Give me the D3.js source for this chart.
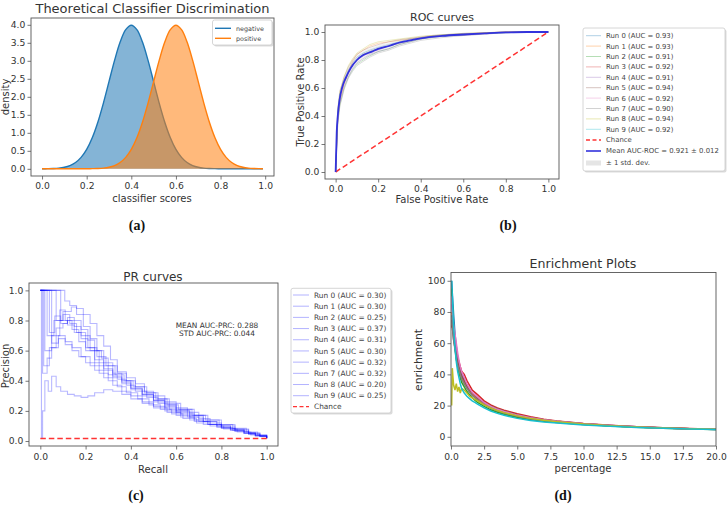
<!DOCTYPE html>
<html><head><meta charset="utf-8">
<script src="https://cdn.jsdelivr.net/npm/d3@7"></script>
<style>body{margin:0;background:#fff}svg{display:block}text{font-family:"DejaVu Sans",sans-serif}</style>
</head><body><svg id="c" width="728" height="509"></svg>
<script>
// ---------- DATA ----------
const tab10 = ["#1f77b4","#ff7f0e","#2ca02c","#d62728","#9467bd","#8c564b","#e377c2","#7f7f7f","#bcbd22","#17becf"];

// (a) theoretical score densities
const scoreX = [0,0.025,0.05,0.075,0.1,0.125,0.15,0.175,0.2,0.225,0.25,0.275,0.3,0.325,0.35,0.375,0.4,0.425,0.45,0.475,0.5,0.525,0.55,0.575,0.6,0.625,0.65,0.675,0.7,0.725,0.75,0.775,0.8,0.825,0.85,0.875,0.9,0.925,0.95,0.975,0.99];
const negDensity = [0.001,0.004,0.009,0.020,0.044,0.091,0.175,0.317,0.540,0.863,1.295,1.826,2.420,3.011,3.521,3.866,3.989,3.866,3.521,3.011,2.420,1.826,1.295,0.863,0.540,0.317,0.175,0.091,0.044,0.020,0.009,0.004,0.001,0,0,0,0,0,0,0,0];
const posDensity = [0,0,0,0,0,0,0,0,0.001,0.004,0.009,0.020,0.044,0.091,0.175,0.317,0.540,0.863,1.295,1.826,2.420,3.011,3.521,3.866,3.989,3.866,3.521,3.011,2.420,1.826,1.295,0.863,0.540,0.317,0.175,0.091,0.044,0.020,0.009,0.004,0.002];
const densityLabels = ["negative","positive"];
const aXTicks = [0,0.2,0.4,0.6,0.8,1.0];
const aYTicks = [0,0.5,1,1.5,2,2.5,3,3.5,4];

// (b) ROC curves
const fprGrid = [0,0.01,0.02,0.04,0.06,0.08,0.1,0.13,0.16,0.2,0.25,0.3,0.35,0.4,0.45,0.5,0.6,0.7,0.8,0.9,1.0];
const rocRuns = [
  [0,0.42,0.55,0.66,0.73,0.78,0.82,0.85,0.87,0.89,0.91,0.93,0.95,0.96,0.97,0.98,0.985,0.99,1,1,1],
  [0,0.38,0.50,0.62,0.72,0.79,0.84,0.87,0.90,0.92,0.93,0.94,0.95,0.96,0.97,0.975,0.985,0.995,1,1,1],
  [0,0.36,0.48,0.60,0.68,0.73,0.77,0.80,0.83,0.86,0.88,0.91,0.93,0.95,0.96,0.97,0.98,0.99,0.995,1,1],
  [0,0.40,0.52,0.64,0.71,0.77,0.80,0.84,0.86,0.88,0.90,0.92,0.94,0.955,0.965,0.975,0.98,0.99,1,1,1],
  [0,0.35,0.50,0.61,0.68,0.74,0.78,0.81,0.84,0.86,0.88,0.91,0.93,0.95,0.96,0.97,0.975,0.985,0.995,1,1],
  [0,0.45,0.58,0.68,0.75,0.80,0.84,0.87,0.89,0.91,0.93,0.945,0.955,0.965,0.975,0.98,0.99,0.995,1,1,1],
  [0,0.40,0.54,0.64,0.70,0.76,0.80,0.83,0.85,0.87,0.90,0.92,0.94,0.955,0.965,0.97,0.98,0.99,0.995,1,1],
  [0,0.34,0.47,0.59,0.67,0.72,0.76,0.79,0.82,0.85,0.87,0.90,0.92,0.94,0.95,0.96,0.975,0.985,0.995,1,1],
  [0,0.44,0.57,0.68,0.76,0.81,0.85,0.88,0.91,0.93,0.94,0.95,0.96,0.97,0.975,0.98,0.99,0.995,1,1,1],
  [0,0.42,0.55,0.65,0.71,0.76,0.80,0.84,0.86,0.88,0.90,0.92,0.94,0.955,0.965,0.97,0.98,0.99,0.995,1,1]
];
const rocAUC = ["0.93","0.93","0.91","0.92","0.91","0.94","0.92","0.90","0.94","0.92"];
const meanFpr = [0,0.005,0.01,0.02,0.03,0.05,0.07,0.1,0.13,0.17,0.2,0.25,0.3,0.35,0.4,0.5,0.6,0.7,0.8,0.9,1.0];
const meanTpr = [0,0.28,0.40,0.53,0.60,0.68,0.74,0.80,0.835,0.86,0.88,0.90,0.925,0.94,0.955,0.972,0.982,0.99,0.997,1,1];
const stdTpr  = [0,0.03,0.035,0.035,0.03,0.03,0.03,0.03,0.028,0.027,0.025,0.022,0.017,0.013,0.01,0.007,0.005,0.004,0.003,0,0];
const rocMeanLabel = "Mean AUC-ROC = 0.921 \u00b1 0.012";
const rocStdLabel = "\u00b1 1 std. dev.";
const unitTicks = [0,0.2,0.4,0.6,0.8,1.0];

// (c) PR curves: [recall, precision]
const prRuns = [
  [[0,1],[0.03,1],[0.03,0.7],[0.06,0.8],[0.1,0.84],[0.13,0.78],[0.16,0.72],[0.2,0.62],[0.24,0.52],[0.28,0.47],[0.32,0.42],[0.36,0.38],[0.4,0.34],[0.45,0.3],[0.5,0.26],[0.55,0.22],[0.6,0.19],[0.65,0.16],[0.7,0.13],[0.75,0.11],[0.8,0.09],[0.85,0.07],[0.9,0.05],[0.95,0.035],[1.0,0.018]],
  [[0,1],[0.015,1],[0.015,0.5],[0.04,0.62],[0.07,0.75],[0.1,0.78],[0.12,0.8],[0.15,0.76],[0.18,0.7],[0.22,0.6],[0.26,0.5],[0.3,0.44],[0.34,0.41],[0.38,0.37],[0.42,0.33],[0.47,0.29],[0.52,0.25],[0.57,0.21],[0.62,0.18],[0.68,0.14],[0.74,0.11],[0.8,0.085],[0.86,0.065],[0.92,0.045],[0.97,0.03],[1.0,0.018]],
  [[0,1],[0.05,1],[0.05,0.65],[0.08,0.7],[0.11,0.66],[0.14,0.62],[0.18,0.56],[0.22,0.5],[0.26,0.45],[0.3,0.4],[0.34,0.36],[0.38,0.32],[0.43,0.28],[0.48,0.24],[0.53,0.21],[0.58,0.18],[0.63,0.15],[0.69,0.12],[0.75,0.1],[0.81,0.08],[0.87,0.06],[0.93,0.04],[1.0,0.018]],
  [[0,1],[0.108,1],[0.108,0.93],[0.13,0.9],[0.16,0.88],[0.19,0.84],[0.22,0.78],[0.25,0.7],[0.28,0.63],[0.31,0.54],[0.34,0.46],[0.38,0.42],[0.42,0.38],[0.46,0.33],[0.5,0.3],[0.55,0.26],[0.6,0.22],[0.65,0.19],[0.7,0.15],[0.75,0.12],[0.8,0.1],[0.86,0.075],[0.92,0.05],[0.97,0.03],[1.0,0.018]],
  [[0,1],[0.07,1],[0.07,0.8],[0.1,0.86],[0.137,0.89],[0.16,0.84],[0.19,0.76],[0.22,0.68],[0.25,0.6],[0.28,0.52],[0.32,0.45],[0.36,0.4],[0.4,0.35],[0.45,0.31],[0.5,0.27],[0.55,0.23],[0.6,0.2],[0.66,0.16],[0.72,0.13],[0.78,0.1],[0.84,0.075],[0.9,0.055],[0.95,0.035],[1.0,0.018]],
  [[0,1],[0.02,1],[0.02,0.6],[0.05,0.7],[0.086,0.87],[0.11,0.8],[0.14,0.74],[0.17,0.66],[0.2,0.6],[0.24,0.54],[0.28,0.48],[0.32,0.43],[0.36,0.39],[0.4,0.35],[0.45,0.31],[0.5,0.27],[0.55,0.24],[0.6,0.2],[0.66,0.17],[0.72,0.13],[0.78,0.1],[0.84,0.08],[0.9,0.055],[0.95,0.035],[1.0,0.018]],
  [[0,1],[0.04,1],[0.04,0.72],[0.064,0.83],[0.09,0.8],[0.12,0.77],[0.15,0.72],[0.18,0.68],[0.21,0.62],[0.25,0.56],[0.29,0.5],[0.33,0.44],[0.37,0.4],[0.41,0.36],[0.46,0.32],[0.51,0.28],[0.56,0.24],[0.61,0.21],[0.67,0.17],[0.73,0.14],[0.79,0.11],[0.85,0.085],[0.91,0.06],[0.96,0.04],[1.0,0.018]],
  [[0,1],[0.09,1],[0.09,0.78],[0.12,0.82],[0.15,0.8],[0.18,0.74],[0.21,0.67],[0.24,0.6],[0.27,0.55],[0.3,0.5],[0.34,0.45],[0.38,0.4],[0.42,0.36],[0.47,0.32],[0.52,0.28],[0.57,0.25],[0.62,0.21],[0.68,0.17],[0.74,0.14],[0.8,0.11],[0.86,0.08],[0.92,0.055],[0.97,0.035],[1.0,0.018]],
  [[0,1],[0.005,1],[0.005,0.02],[0.01,0.2],[0.02,0.4],[0.035,0.33],[0.05,0.43],[0.07,0.36],[0.09,0.33],[0.12,0.31],[0.15,0.3],[0.18,0.29],[0.21,0.3],[0.24,0.32],[0.28,0.34],[0.32,0.33],[0.36,0.31],[0.4,0.28],[0.45,0.25],[0.5,0.22],[0.56,0.19],[0.62,0.16],[0.68,0.13],[0.74,0.11],[0.8,0.085],[0.86,0.065],[0.92,0.045],[0.97,0.03],[1.0,0.018]],
  [[0,1],[0.01,1],[0.01,0.45],[0.03,0.55],[0.05,0.62],[0.08,0.68],[0.11,0.64],[0.14,0.6],[0.17,0.56],[0.2,0.52],[0.24,0.47],[0.28,0.42],[0.32,0.37],[0.36,0.33],[0.4,0.3],[0.45,0.26],[0.5,0.23],[0.55,0.2],[0.6,0.17],[0.66,0.14],[0.72,0.11],[0.78,0.09],[0.84,0.07],[0.9,0.05],[0.95,0.035],[1.0,0.018]]
];
const prAUC = ["0.30","0.30","0.25","0.37","0.31","0.30","0.32","0.32","0.20","0.25"];
const prChance = 0.016;
const prNotes = ["MEAN AUC-PRC: 0.288","STD AUC-PRC: 0.044"];

// (d) enrichment
const pctGrid = [0.05,0.1,0.15,0.2,0.3,0.4,0.5,0.6,0.7,0.8,1.0,1.2,1.4,1.6,1.8,2.0,2.5,3.0,3.5,4.0,5.0,6.0,7.0,8.0,10,12,14,16,18,20];
const enrichRuns = [
  [100,92,85,78,66,58,51,47,43,40,36,32,29,27,25.5,24,21,18.5,16.5,15,12.8,11.3,10.2,9.4,8.0,7.0,6.2,5.6,5.1,4.7],
  [80,75,70,66,58,52,47,44,41,38,34,31,29,27,25.5,24,21,19,17.2,15.8,13.5,11.8,10.6,9.6,8.2,7.1,6.3,5.7,5.2,4.8],
  [95,85,76,68,58,50,45,41,38,35,32,29,27,25,23.5,22,19.5,17.3,15.7,14.4,12.4,11,10,9.2,7.9,6.9,6.1,5.5,5.0,4.6],
  [70,72,68,66,60,55,51,48,45,42,40,36,33,30,28.5,27,23,20.5,18.5,17,14.8,12.8,11.3,10.2,8.6,7.4,6.5,5.8,5.3,4.9],
  [85,80,74,70,62,56,50,46,43,40,37,33,30.5,28,26.5,25,21.5,19.2,17.4,16,13.8,12.1,10.8,9.8,8.3,7.2,6.4,5.7,5.2,4.8],
  [75,70,66,62,57,52,48,45,42,39,36,32.5,30,28,26.5,25,22,19.8,18,16.5,14.2,12.4,11,10,8.4,7.3,6.4,5.8,5.2,4.8],
  [90,82,75,71,66,60,54,49,45,42,38,34,31,28.5,27,25.5,22,19.5,17.6,16.2,13.9,12.2,10.9,9.9,8.3,7.2,6.4,5.7,5.2,4.8],
  [78,72,66,62,56,50,46,43,40,37,34,31,28.5,26.5,25,23.5,20.5,18.3,16.6,15.3,13.2,11.6,10.4,9.5,8.1,7.0,6.2,5.6,5.1,4.7],
  [20,44,38,33,30,34,29,32,28,31,30,28,26,25,24,23,20.5,18.5,16.8,15.5,13.4,11.8,10.6,9.7,8.2,7.1,6.3,5.7,5.2,4.8],
  [100,90,80,70,57,48,42,38,34,31,28,26,24.5,23,22,21,18.5,16.5,15,13.8,11.8,10.5,9.5,8.8,7.6,6.7,6.0,5.4,5.0,4.6]
];
const dXTicks = [0,2.5,5,7.5,10,12.5,15,17.5,20];
const dYTicks = [0,20,40,60,80,100];
const panelLabels = ["(a)","(b)","(c)","(d)"];

// ---------- DRAWING ----------
const svg = d3.select("#c");
svg.append("rect").attr("width",728).attr("height",509).attr("fill","#fff");
const AX = "#555", TXT = "#333";

function panel(box, xd, yd, xt, yt, xf, yf, padX, id){
  const x = d3.scaleLinear().domain(xd).range([box.l, box.r]);
  const y = d3.scaleLinear().domain(yd).range([box.b, box.t]);
  const g = svg.append("g");
  svg.append("clipPath").attr("id",id).append("rect")
    .attr("x",box.l).attr("y",box.t).attr("width",box.r-box.l).attr("height",box.b-box.t);
  const plot = g.append("g").attr("clip-path",`url(#${id})`);
  const ax = g.append("g");
  const xa = ax.append("g").attr("transform",`translate(0,${box.b})`)
    .call(d3.axisBottom(x).tickValues(xt).tickFormat(xf).tickSize(3.5).tickPadding(padX));
  const ya = ax.append("g").attr("transform",`translate(${box.l},0)`)
    .call(d3.axisLeft(y).tickValues(yt).tickFormat(yf).tickSize(3.5).tickPadding(2.2));
  [xa,ya].forEach(a=>{
    a.select(".domain").remove();
    a.selectAll("line").attr("stroke",AX).attr("stroke-width",0.8);
    a.selectAll("text").attr("fill",TXT).style("font-size","9.2px").style("font-family","DejaVu Sans");
  });
  ax.append("rect").attr("x",box.l).attr("y",box.t).attr("width",box.r-box.l).attr("height",box.b-box.t)
    .attr("fill","none").attr("stroke",AX).attr("stroke-width",0.9);
  return {x,y,plot,g};
}
function text(s,x,y,opt={}){
  const t = svg.append("text").attr("x",x).attr("y",y).text(s)
    .attr("fill",opt.fill||TXT).style("font-size",(opt.size||10)+"px")
    .attr("text-anchor",opt.anchor||"middle");
  if(opt.rot) t.attr("transform",`rotate(-90,${x},${y})`);
  if(opt.family) t.style("font-family",opt.family);
  if(opt.weight) t.style("font-weight",opt.weight);
  return t;
}
function legendBox(x0,y0,x1,y1){
  svg.append("rect").attr("x",x0+1.5).attr("y",y0+1.5).attr("width",x1-x0).attr("height",y1-y0)
    .attr("rx",2).attr("fill","#999").attr("opacity",0.35);
  svg.append("rect").attr("x",x0).attr("y",y0).attr("width",x1-x0).attr("height",y1-y0)
    .attr("rx",2).attr("fill","#fff").attr("stroke","#ccc").attr("stroke-width",0.8);
}

// ----- (a)
{
  const P = panel({l:31,r:274,t:18,b:176}, [-0.0495,1.0395], [-0.1995,4.189], aXTicks, aYTicks, d3.format(".1f"), d3.format(".1f"), 2.5, "ca");
  const pts = arr => scoreX.map((v,i)=>[v,arr[i]]);
  const area = d3.area().x(d=>P.x(d[0])).y0(P.y(0)).y1(d=>P.y(d[1])).curve(d3.curveCatmullRom);
  const line = d3.line().x(d=>P.x(d[0])).y(d=>P.y(d[1])).curve(d3.curveCatmullRom);
  [negDensity,posDensity].forEach((arr,i)=>{
    P.plot.append("path").attr("d",area(pts(arr))).attr("fill",tab10[i]).attr("fill-opacity",0.55);
    P.plot.append("path").attr("d",line(pts(arr))).attr("fill","none").attr("stroke",tab10[i]).attr("stroke-width",1.4);
  });
  text("Theoretical Classifier Discrimination",152.5,13.3,{size:13});
  text("classifier scores",152,202,{size:10});
  text("density",8.5,97,{size:10,rot:true});
  legendBox(212.5,20,272,45);
  densityLabels.forEach((s,i)=>{
    const yy = 28.3+i*10;
    svg.append("line").attr("x1",215).attr("x2",231).attr("y1",yy).attr("y2",yy).attr("stroke",tab10[i]).attr("stroke-width",1.4);
    text(s,236,yy+2.3,{size:6.4,anchor:"start",fill:"#444"});
  });
}

// ----- (b)
{
  const P = panel({l:325,r:559,t:25,b:179}, [-0.05,1.05], [-0.05,1.05], unitTicks, unitTicks, d3.format(".1f"), d3.format(".1f"), 2.5, "cb");
  const band = d3.area().x(d=>P.x(d[0])).y0(d=>P.y(Math.max(0,d[1]-d[2]))).y1(d=>P.y(Math.min(1,d[1]+d[2]))).curve(d3.curveMonotoneX);
  P.plot.append("path").attr("d",band(meanFpr.map((f,i)=>[f,meanTpr[i],stdTpr[i]]))).attr("fill","#999").attr("fill-opacity",0.15);
  const rl = d3.line().x(d=>P.x(d[0])).y(d=>P.y(d[1]));
  rocRuns.forEach((r,k)=>{
    P.plot.append("path").attr("d",rl(fprGrid.map((f,i)=>[f,r[i]]))).attr("fill","none")
      .attr("stroke",tab10[k]).attr("stroke-opacity",0.3).attr("stroke-width",0.9);
  });
  P.plot.append("line").attr("x1",P.x(0)).attr("y1",P.y(0)).attr("x2",P.x(1)).attr("y2",P.y(1))
    .attr("stroke","#ff3333").attr("stroke-width",1.5).attr("stroke-dasharray","5.5,3");
  const line = d3.line().x(d=>P.x(d[0])).y(d=>P.y(d[1])).curve(d3.curveMonotoneX);
  P.plot.append("path").attr("d",line(meanFpr.map((f,i)=>[f,meanTpr[i]]))).attr("fill","none")
    .attr("stroke","#3333dd").attr("stroke-width",1.8);
  text("ROC curves",442,20.5,{size:11});
  text("False Positive Rate",442,203,{size:10});
  text("True Positive Rate",303.5,102,{size:10,rot:true});
  legendBox(583,28,725,171);
  rocAUC.forEach((a,i)=>{
    const yy = 35.7+i*10.4;
    svg.append("line").attr("x1",586).attr("x2",601).attr("y1",yy).attr("y2",yy).attr("stroke",tab10[i]).attr("stroke-opacity",0.35);
    text(`Run ${i} (AUC = ${a})`,606,yy+2.4,{size:6.9,anchor:"start",fill:"#444"});
  });
  svg.append("line").attr("x1",586).attr("x2",601).attr("y1",140).attr("y2",140).attr("stroke","#ff3333").attr("stroke-width",1.3).attr("stroke-dasharray","4,2.5");
  text("Chance",606,142.4,{size:6.9,anchor:"start",fill:"#444"});
  svg.append("line").attr("x1",586).attr("x2",601).attr("y1",151).attr("y2",151).attr("stroke","#3333dd").attr("stroke-width",1.6);
  text(rocMeanLabel,606,153.4,{size:6.9,anchor:"start",fill:"#444"});
  svg.append("rect").attr("x",586).attr("y",160.5).attr("width",15).attr("height",5).attr("fill","#999").attr("fill-opacity",0.25);
  text(rocStdLabel,606,165.4,{size:6.9,anchor:"start",fill:"#444"});
}

// ----- (c)
{
  const P = panel({l:29,r:278,t:283,b:446}, [-0.05,1.05], [-0.033,1.049], unitTicks, unitTicks, d3.format(".1f"), d3.format(".1f"), 4, "cc");
  const step = d3.line().x(d=>P.x(d[0])).y(d=>P.y(d[1])).curve(d3.curveStepAfter);
  prRuns.forEach(r=>{
    P.plot.append("path").attr("d",step(r)).attr("fill","none").attr("stroke","#0000ff").attr("stroke-opacity",0.28).attr("stroke-width",1.1);
  });
  P.plot.append("line").attr("x1",P.x(0)).attr("x2",P.x(1)).attr("y1",P.y(prChance)).attr("y2",P.y(prChance))
    .attr("stroke","#ff3333").attr("stroke-width",1.5).attr("stroke-dasharray","5.5,3");
  text(prNotes[0],217,328,{size:7.4});
  text(prNotes[1],217,336.3,{size:7.4});
  text("PR curves",153,280.7,{size:12});
  text("Recall",153,473,{size:10});
  text("Precision",8.5,366,{size:10,rot:true});
  legendBox(291,288.3,391,413);
  prAUC.forEach((a,i)=>{
    const yy = 295+i*11.19;
    svg.append("line").attr("x1",293).attr("x2",309).attr("y1",yy).attr("y2",yy).attr("stroke","#0000ff").attr("stroke-opacity",0.3);
    text(`Run ${i} (AUC = ${a})`,314,yy+2.6,{size:7.4,anchor:"start",fill:"#444"});
  });
  svg.append("line").attr("x1",293).attr("x2",309).attr("y1",406.7).attr("y2",406.7).attr("stroke","#ff3333").attr("stroke-width",1.3).attr("stroke-dasharray","4,2.5");
  text("Chance",314,409.3,{size:7.4,anchor:"start",fill:"#444"});
}

// ----- (d)
{
  const P = panel({l:451,r:716,t:272.5,b:446}, [0,20], [-5.9,105.3], dXTicks, dYTicks, d3.format(".1f"), d3.format("d"), 4, "cd");
  const line = d3.line().x(d=>P.x(d[0])).y(d=>P.y(d[1]));
  enrichRuns.forEach((r,k)=>{
    P.plot.append("path").attr("d",line(pctGrid.map((p,i)=>[p,r[i]]))).attr("fill","none")
      .attr("stroke",tab10[k]).attr("stroke-width",1.5);
  });
  text("Enrichment Plots",583,268.3,{size:12.6});
  text("percentage",583,472,{size:10});
  text("enrichment",422,360,{size:10.8,rot:true});
}

// subplot captions
[[137,230],[508,230],[136,499.5],[563,499.5]].forEach((p,i)=>{
  text(panelLabels[i],p[0],p[1],{size:14,family:"Liberation Serif",weight:"bold",fill:"#111"});
});
</script></body></html>
